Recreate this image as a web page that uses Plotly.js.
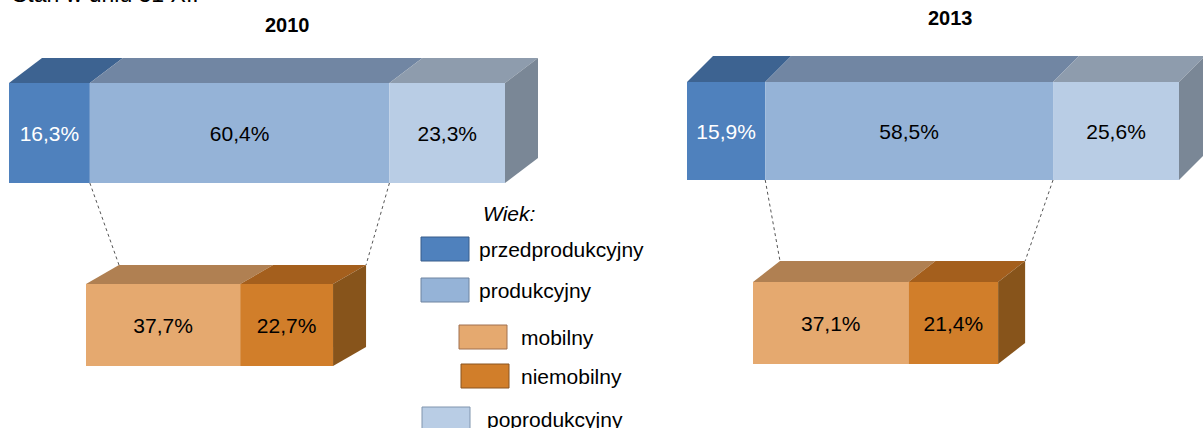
<!DOCTYPE html>
<html>
<head>
<meta charset="utf-8">
<script src="https://cdn.plot.ly/plotly-3.0.1.min.js"></script>
<style>html,body{margin:0;padding:0;background:#fff;}#chart{width:1203px;height:428px;}</style>
</head>
<body>
<div id="chart"></div>
<script>
// ---- data ----
const years = ['2010', '2013'];
const ageLabels = ['przedprodukcyjny', 'produkcyjny', 'poprodukcyjny'];
const share2010 = [16.3, 60.4, 23.3];
const share2013 = [15.9, 58.5, 25.6];
const workLabels = ['mobilny', 'niemobilny'];
const work2010 = [37.7, 22.7];
const work2013 = [37.1, 21.4];
const headerText = 'Stan w dniu 31 XII';
const legendTitle = 'Wiek:';

// ---- styles ----
const W = 1203, H = 428;
const FONT = 'Liberation Sans, Arial, sans-serif';
const ageFront = ['#4F81BD', '#95B3D7', '#B9CDE5'];
const ageTop = ['#3D6391', '#7186A3', '#8E9CAD'];
const ageSide = '#7A8796';
const ageText = ['#FFFFFF', '#000000', '#000000'];
const workFront = ['#E5A96F', '#D17E2A'];
const workTop = ['#B08052', '#A45F1D'];
const workSide = '#87541B';
const workText = ['#000000', '#000000'];

const panels = [
  {vals: share2010, labels: ageLabels, front: ageFront, top: ageTop, side: ageSide, tc: ageText, x0: 9,   kx: 4.96, yT: 83,  yB: 183, dx: 33, dy: 25},
  {vals: work2010,  labels: workLabels, front: workFront, top: workTop, side: workSide, tc: workText, x0: 86,  kx: 4.09, yT: 284, yB: 366, dx: 33, dy: 19},
  {vals: share2013, labels: ageLabels, front: ageFront, top: ageTop, side: ageSide, tc: ageText, x0: 687, kx: 4.92, yT: 82,  yB: 180, dx: 26, dy: 26},
  {vals: work2013,  labels: workLabels, front: workFront, top: workTop, side: workSide, tc: workText, x0: 753, kx: 4.19, yT: 282, yB: 364, dx: 27, dy: 21}
];

const traces = [];
const layout = {
  width: W, height: H,
  margin: {l: 0, r: 0, t: 0, b: 0},
  paper_bgcolor: '#FFFFFF', plot_bgcolor: 'rgba(0,0,0,0)',
  showlegend: false, barmode: 'overlay',
  font: {family: FONT, size: 20, color: '#000'},
  annotations: [], shapes: []
};

function cum(arr) { const out = [0]; arr.forEach(v => out.push(out[out.length - 1] + v)); return out; }

panels.forEach((p, i) => {
  const n = i === 0 ? '' : String(i + 1);
  const xa = 'x' + n, ya = 'y' + n;
  const total = p.vals.reduce((a, b) => a + b, 0);
  const h = p.yB - p.yT;
  const dxU = p.dx / p.kx, dyU = p.dy / h;
  p.dxU = dxU; p.dyU = dyU; p.h = h; p.cum = cum(p.vals);
  const pad = 2;
  const dpx0 = p.x0 - pad;
  const dpx1 = Math.min(W, p.x0 + (total + dxU) * p.kx + pad);
  const mid = (p.yT + p.yB) / 2;
  const pyTop = p.yT - p.dy - pad, pyBot = p.yB + pad;
  layout['xaxis' + n] = {
    domain: [dpx0 / W, dpx1 / W], range: [(dpx0 - p.x0) / p.kx, (dpx1 - p.x0) / p.kx],
    visible: false, fixedrange: true, anchor: ya
  };
  layout['yaxis' + n] = {
    domain: [1 - pyBot / H, 1 - pyTop / H], range: [(mid - pyBot) / h, (mid - pyTop) / h],
    visible: false, fixedrange: true, anchor: xa
  };
  // front faces
  p.vals.forEach((v, j) => {
    traces.push({
      type: 'bar', orientation: 'h', xaxis: xa, yaxis: ya,
      x: [v], base: [p.cum[j]], y: [0], width: [1],
      marker: {color: p.front[j], line: {width: 0}},
      text: [v.toFixed(1).replace('.', ',') + '%'],
      textposition: 'inside', insidetextanchor: 'middle', constraintext: 'none',
      textfont: {family: FONT, size: 21, color: p.tc[j]},
      hoverinfo: 'skip', name: p.labels[j]
    });
    // top faces
    const a = p.cum[j], b = p.cum[j + 1];
    traces.push({
      type: 'scatter', mode: 'lines', xaxis: xa, yaxis: ya, fill: 'toself',
      x: [a, b, b + dxU, a + dxU, a], y: [0.5, 0.5, 0.5 + dyU, 0.5 + dyU, 0.5],
      fillcolor: p.top[j], line: {width: 0}, hoverinfo: 'skip'
    });
  });
  // side face
  traces.push({
    type: 'scatter', mode: 'lines', xaxis: xa, yaxis: ya, fill: 'toself',
    x: [total, total + dxU, total + dxU, total, total],
    y: [-0.5, -0.5 + dyU, 0.5 + dyU, 0.5, -0.5],
    fillcolor: p.side, line: {width: 0}, hoverinfo: 'skip'
  });
});

// pixel mapping helpers mirroring the panel axes
function px(p, xv) { return p.x0 + xv * p.kx; }
function py(p, yv) { return (p.yT + p.yB) / 2 - yv * p.h; }

// connectors between top bar's productive segment and bottom bar
[[panels[0], panels[1]], [panels[2], panels[3]]].forEach(([t, b]) => {
  const starts = [t.cum[1], t.cum[2]];
  const ends = [b.cum[0] + b.dxU, b.cum[b.cum.length - 1] + b.dxU];
  starts.forEach((s, k) => {
    layout.shapes.push({
      type: 'line', xref: 'paper', yref: 'paper',
      x0: px(t, s) / W, y0: 1 - py(t, -0.5) / H,
      x1: px(b, ends[k]) / W, y1: 1 - py(b, 0.5 + b.dyU) / H,
      line: {color: '#555555', width: 1, dash: 'dot'}
    });
  });
});

// year titles
const yearPos = [[287, 25], [950, 18]];
years.forEach((yr, i) => {
  layout.annotations.push({
    text: '<b>' + yr + '</b>', xref: 'paper', yref: 'paper',
    x: yearPos[i][0] / W, y: 1 - yearPos[i][1] / H, xanchor: 'center', yanchor: 'middle',
    showarrow: false, font: {family: FONT, size: 20, color: '#000'}
  });
});

// header (cut off at top, as in the source)
layout.annotations.push({
  text: headerText, xref: 'paper', yref: 'paper', x: 10 / W, y: 1 + 6 / H,
  xanchor: 'left', yanchor: 'middle', showarrow: false,
  font: {family: FONT, size: 23, color: '#000'}
});

// legend
layout.annotations.push({
  text: '<i>' + legendTitle + '</i>', xref: 'paper', yref: 'paper', x: 481 / W, y: 1 - 213 / H,
  xanchor: 'left', yanchor: 'middle', showarrow: false, font: {family: FONT, size: 21, color: '#000'}
});
const legendItems = [
  {label: ageLabels[0], color: ageFront[0], border: '#385D8A', bx: 421, by: 237, tx: 477},
  {label: ageLabels[1], color: ageFront[1], border: '#6F84A0', bx: 421, by: 278, tx: 477},
  {label: workLabels[0], color: workFront[0], border: '#A07050', bx: 459, by: 325, tx: 519},
  {label: workLabels[1], color: workFront[1], border: '#8A5520', bx: 461, by: 364, tx: 519},
  {label: ageLabels[2], color: ageFront[2], border: '#8095AE', bx: 422, by: 407, tx: 485}
];
legendItems.forEach(it => {
  layout.shapes.push({
    type: 'rect', xref: 'paper', yref: 'paper',
    x0: it.bx / W, x1: (it.bx + 48) / W, y0: 1 - (it.by + 24) / H, y1: 1 - it.by / H,
    fillcolor: it.color, line: {color: it.border, width: 1}
  });
  layout.annotations.push({
    text: it.label, xref: 'paper', yref: 'paper', x: it.tx / W, y: 1 - (it.by + 12) / H,
    xanchor: 'left', yanchor: 'middle', showarrow: false, font: {family: FONT, size: 21, color: '#000'}
  });
});

Plotly.newPlot('chart', traces, layout, {staticPlot: true, displayModeBar: false});
</script>
</body>
</html>
